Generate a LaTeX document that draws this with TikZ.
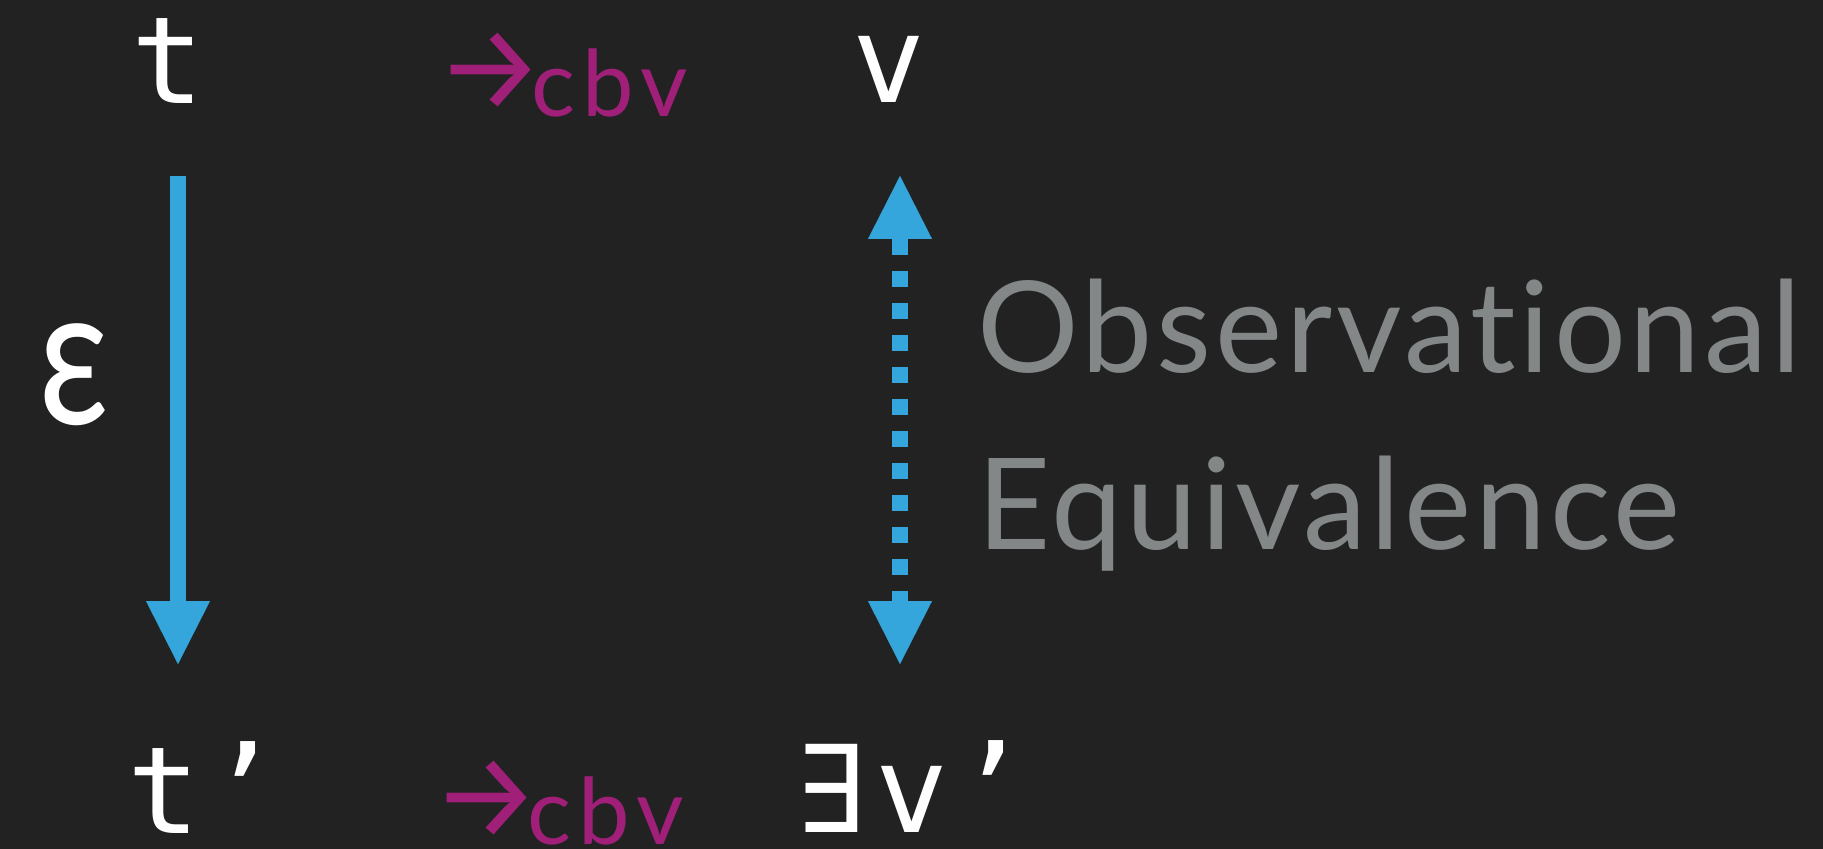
\documentclass[tikz,border=0pt]{standalone}
\usepackage{fontspec}
\setmainfont{Lato}[Ligatures=CommonOff]
\newfontfamily\notefont{Lato}[LetterSpace=3, Ligatures=CommonOff]
\newfontfamily\cbvfont{Lato}[LetterSpace=8]
\newfontfamily\termfont{DejaVu Sans Mono}
\newfontfamily\symfont{Fira Sans}
\usetikzlibrary{arrows.meta}
\definecolor{bgdark}{HTML}{222222}
\definecolor{stepblue}{HTML}{34A6DB}
\definecolor{cbvpurple}{HTML}{A01F78}
\definecolor{notegray}{HTML}{838787}
\newcommand{\cbvstep}{{\symfont\fontsize{60}{60}\selectfont →}\kern-6.5pt\raisebox{-3.5pt}[\height][0pt]{cbv}}

\begin{document}
\begin{tikzpicture}[x=0.5pt, y=-0.5pt,
  term/.style={text=white, inner sep=0pt, anchor=base, font=\termfont\fontsize{60.5}{60.5}\selectfont},
  reduce/.style={text=cbvpurple, inner sep=0pt, anchor=base west, font=\cbvfont\fontsize{46}{46}\selectfont},
  note/.style={text=notegray, inner sep=0pt, anchor=base west, font=\notefont\fontsize{63.5}{63.5}\selectfont},
  blue arrow/.style={draw=stepblue, line width=8pt, -{Triangle[length=31.5pt, width=32pt, line width=0.01pt]}}]
  \fill[bgdark] (0,0) rectangle (1823,849);
  \useasboundingbox (0,0) rectangle (1823,849);
  % terms
  \node[term] (t) at (168,104) {t};
  \node[term] (v) at (889,103) {v};
  \node[term, anchor=base west] (tp) at (127,833) {t\kern3.5pt’};
  \node[term, anchor=base west] (ev) at (795,832) {∃\kern3.5pt v\kern3.5pt’};
  \node[text=white, inner sep=0pt, font=\fontsize{98}{98}\selectfont] (eps) at (74,375) {\scalebox{0.8}[1]{ε}};
  % reductions
  \node[reduce] (top) at (436,110) {\cbvstep};
  \node[reduce] (bot) at (432,837) {\cbvstep};
  % arrows
  \coordinate (ts) at (178,176);
  \coordinate (te) at (178,664);
  \coordinate (vs) at (900,176);
  \coordinate (ve) at (900,664);
  \draw[blue arrow] (ts) -- (te);
  \draw[blue arrow, {Triangle[length=31.5pt, width=32pt, line width=0.01pt]}-{Triangle[length=31.5pt, width=32pt, line width=0.01pt]}, dash pattern=on 8pt off 8pt] (vs) -- (ve);
  \node[note] (obs) at (977,373) {Observational};
  \node[note] (equiv) at (977,549) {Equivalence};
\end{tikzpicture}
\end{document}
